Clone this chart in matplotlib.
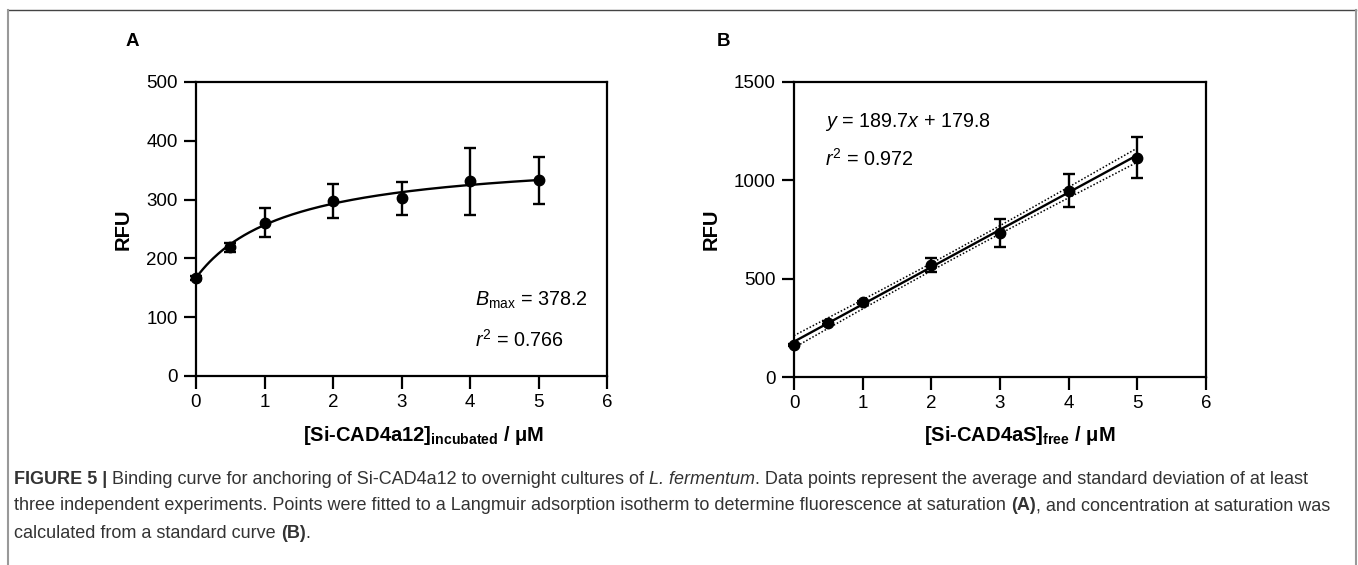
import numpy as np
import matplotlib
matplotlib.use("Agg")
import matplotlib.pyplot as plt
from matplotlib.lines import Line2D

plt.rcParams['font.family'] = ['Liberation Sans', 'DejaVu Sans']
plt.rcParams['mathtext.fontset'] = 'custom'
plt.rcParams['mathtext.rm'] = 'Liberation Sans'
plt.rcParams['mathtext.it'] = 'Liberation Sans:italic'
plt.rcParams['mathtext.bf'] = 'Liberation Sans:bold'

# ---------------- data ----------------
conc_a = [0, 0.5, 1, 2, 3, 4, 5]
rfu_a = [167, 219, 261, 298, 302, 331, 333]
err_a = [3, 8, 25, 29, 28, 57, 40]
bmax_a = 378.2
y0_a = 167.0
kd_a = 1.35

conc_b = [0, 0.5, 1, 2, 3, 4, 5]
rfu_b = [163, 276, 380, 570, 731, 947, 1116]
err_b = [5, 8, 8, 34, 70, 85, 102]
slope_b = 189.7
icpt_b = 179.8
ci_scale_b = 50.0

fig = plt.figure(figsize=(13.58, 5.65), dpi=100)
W, H = 1358, 565

def ax_rect(l, r, t, b):
    return [l / W, 1 - b / H, (r - l) / W, (b - t) / H]

tick_fs = 13.5
lab_fs = 14.5
lw = 1.6

def style_axes(ax, ymax, yticks):
    ax.set_xlim(0, 6)
    ax.set_ylim(0, ymax)
    ax.set_xticks(range(0, 7))
    ax.set_yticks(yticks)
    for s in ax.spines.values():
        s.set_linewidth(lw)
    ax.tick_params(direction='out', length=9, width=lw, labelsize=tick_fs, pad=4)

# ---------- panel A ----------
axA = fig.add_axes(ax_rect(196, 607, 82, 376))
style_axes(axA, 500, [0, 100, 200, 300, 400, 500])
xs = np.linspace(0, 5, 200)
axA.plot(xs, y0_a + (bmax_a - y0_a) * xs / (kd_a + xs), color='black', lw=1.7, clip_on=False)
axA.errorbar(conc_a, rfu_a, yerr=err_a, fmt='o', color='black', ms=7.5,
             capsize=4, elinewidth=1.7, capthick=1.7, clip_on=False)
axA.set_ylabel('RFU', fontsize=lab_fs, fontweight='bold')
axA.yaxis.set_label_coords((133 - 196) / 411, 0.5)
axA.set_xlabel(r'[Si-CAD4a12]$_{\mathbf{incubated}}$ / μM', fontsize=lab_fs,
               fontweight='bold')
axA.xaxis.set_label_coords(0.555, -(424 - 376) / 294)
axA.text(4.07, 129, r'$B_{\mathrm{max}}$ = 378.2', fontsize=14.2, va='center', ha='left')
axA.text(4.07, 61, r'$r^{2}$ = 0.766', fontsize=14.2, va='center', ha='left')

# ---------- panel B ----------
axB = fig.add_axes(ax_rect(794, 1206, 82, 377))
style_axes(axB, 1500, [0, 500, 1000, 1500])
xb = np.linspace(0, 5, 200)
fit = slope_b * xb + icpt_b
xarr = np.array(conc_b, dtype=float)
xbar = xarr.mean()
sxx = ((xarr - xbar) ** 2).sum()
half = ci_scale_b * np.sqrt(1 / len(xarr) + (xb - xbar) ** 2 / sxx)
axB.plot(xb, fit, color='black', lw=1.7, clip_on=False)
axB.plot(xb, fit + half, color='black', lw=1.1, ls=(0, (1, 1.3)), clip_on=False)
axB.plot(xb, fit - half, color='black', lw=1.1, ls=(0, (1, 1.3)), clip_on=False)
axB.errorbar(conc_b, rfu_b, yerr=err_b, fmt='o', color='black', ms=7.5,
             capsize=4, elinewidth=1.7, capthick=1.7, clip_on=False)
axB.set_ylabel('RFU', fontsize=lab_fs, fontweight='bold')
axB.yaxis.set_label_coords((721 - 794) / 412, 0.5)
axB.set_xlabel(r'[Si-CAD4aS]$_{\mathbf{free}}$ / μM', fontsize=lab_fs,
               fontweight='bold')
axB.xaxis.set_label_coords(0.549, -(424 - 377) / 295)
axB.text(0.45, 1299, r'$y$ = 189.7$x$ + 179.8', fontsize=14.2, va='center', ha='left')
axB.text(0.45, 1109, r'$r^{2}$ = 0.972', fontsize=14.2, va='center', ha='left')

# panel letters
fig.text(132 / W, 1 - 42 / H, 'A', fontsize=13.5, fontweight='bold', ha='center', va='center')
fig.text(724 / W, 1 - 41 / H, 'B', fontsize=13.5, fontweight='bold', ha='center', va='center')

# frame
fig.add_artist(Line2D([7.5 / W, 1356 / W], [1 - 10 / H, 1 - 10 / H], color='#444444', lw=1.0,
                      transform=fig.transFigure))
fig.add_artist(Line2D([7.5 / W, 7.5 / W], [1 - 10 / H, 0], color='#999999', lw=1.5,
                      transform=fig.transFigure))
fig.add_artist(Line2D([1356 / W, 1356 / W], [1 - 10 / H, 0], color='#999999', lw=1.5,
                      transform=fig.transFigure))

# caption with mixed styles
cap_fs = 13.0
cap_col = '#333333'
lines = [
    [('FIGURE 5 | ', 'bold', 'normal'),
     ('Binding curve for anchoring of Si-CAD4a12 to overnight cultures of ', 'normal', 'normal'),
     ('L. fermentum', 'normal', 'italic'),
     ('. Data points represent the average and standard deviation of at least', 'normal', 'normal')],
    [('three independent experiments. Points were fitted to a Langmuir adsorption isotherm to determine fluorescence at saturation ', 'normal', 'normal'),
     ('(A)', 'bold', 'normal'),
     (', and concentration at saturation was', 'normal', 'normal')],
    [('calculated from a standard curve ', 'normal', 'normal'),
     ('(B)', 'bold', 'normal'),
     ('.', 'normal', 'normal')],
]
line_y = [479, 506, 533]
renderer = fig.canvas.get_renderer()
for runs, ly in zip(lines, line_y):
    x = 14
    for txt, wt, st in runs:
        t = fig.text(x / W, 1 - ly / H, txt, fontsize=cap_fs, fontweight=wt, fontstyle=st,
                     color=cap_col, ha='left', va='center')
        bb = t.get_window_extent(renderer=renderer)
        x += bb.width

fig.savefig('out.png', dpi=100)
